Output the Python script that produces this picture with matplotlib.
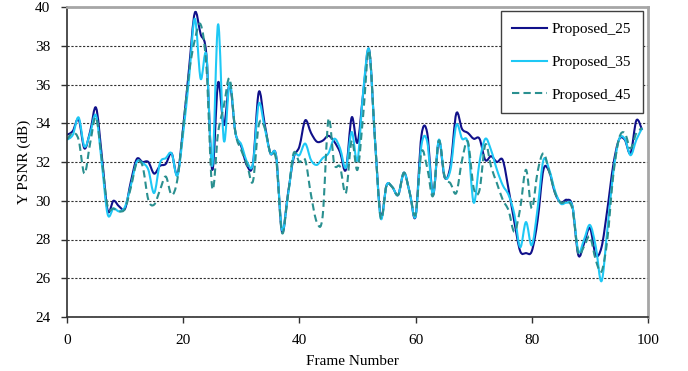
import matplotlib
matplotlib.use('Agg')
import matplotlib.pyplot as plt
import numpy as np
from matplotlib.path import Path
from matplotlib.patches import PathPatch
from matplotlib.lines import Line2D

# Y PSNR per frame
frames = list(range(100))

proposed_25 = [
    33.4, 33.6, 34.2, 32.7, 33.6, 34.8, 32.3, 29.5, 30.0, 29.7,
    29.6, 31.0, 32.15, 32.0, 32.0, 31.4, 31.8, 31.9, 32.45, 31.35,
    33.8, 36.8, 39.7, 38.6, 37.5, 31.6, 36.1, 33.9, 36.0, 33.5,
    32.8, 31.8, 31.9, 35.6, 34.0, 32.45, 32.3, 28.4, 30.3, 32.2,
    32.8, 34.15, 33.5, 33.05, 33.1, 33.35, 33.05, 32.5, 31.6, 34.3,
    33.0, 35.6, 37.8, 33.2, 29.2, 30.8, 30.7, 30.3, 31.45, 30.4,
    29.2, 33.35, 33.5, 30.3, 33.1, 31.2, 31.8, 34.5, 33.7, 33.5,
    33.2, 33.2, 32.1, 32.3, 32.0, 32.1, 30.6, 28.9, 27.4, 27.3,
    27.4, 29.0, 31.6, 31.5, 30.4, 29.9, 30.05, 29.7, 27.2, 27.8,
    28.6, 27.2, 27.6, 29.55, 31.8, 33.15, 33.15, 32.45, 34.15, 33.65,
]

proposed_35 = [
    33.15, 33.4, 34.3, 32.8, 33.5, 34.4, 31.9, 29.3, 29.6, 29.45,
    29.7, 30.8, 32.0, 31.95, 31.6, 30.4, 31.95, 32.2, 32.45, 31.3,
    33.5, 36.3, 39.4, 36.3, 37.5, 31.8, 39.1, 33.1, 36.1, 33.5,
    32.9, 32.0, 31.9, 35.0, 33.8, 32.45, 32.3, 28.5, 30.2, 32.3,
    32.35, 32.95, 32.1, 31.85, 32.2, 32.45, 33.2, 32.7, 31.7, 33.55,
    32.1, 35.7, 37.8, 33.2, 29.1, 30.8, 30.7, 30.3, 31.45, 30.4,
    29.2, 32.85, 33.05, 30.3, 33.15, 31.25, 31.6, 33.9, 33.2, 32.95,
    29.9, 32.0, 33.2, 32.6, 31.6, 30.8, 30.3, 29.3, 27.6, 28.9,
    27.7, 29.6, 32.1, 31.6, 30.5, 29.85, 29.9, 29.7, 27.4, 28.0,
    28.75, 27.65, 25.85, 28.5, 31.4, 33.15, 33.2, 32.35, 33.15, 33.75,
]

proposed_45 = [
    33.15, 33.5, 33.15, 31.4, 33.0, 34.3, 32.1, 29.7, 29.6, 29.45,
    29.6, 30.7, 31.95, 31.8, 30.05, 29.8, 30.55, 31.25, 30.3, 31.1,
    33.8, 36.6, 38.3, 39.1, 36.9, 30.65, 33.5, 34.9, 36.3, 33.5,
    32.6, 31.85, 31.0, 33.9, 33.8, 32.45, 32.1, 28.35, 30.2, 32.45,
    32.0, 32.1, 30.3, 28.9, 29.2, 34.2, 31.9, 31.75, 30.4, 33.1,
    31.6, 34.5, 37.75, 33.2, 29.1, 30.8, 30.7, 30.3, 31.45, 30.4,
    29.3, 32.5, 31.7, 30.25, 33.1, 31.25, 30.9, 30.4, 32.1, 33.05,
    30.65, 30.55, 32.9, 31.75, 30.9, 30.05, 29.5, 28.4, 29.6, 31.6,
    29.6, 31.5, 32.45, 31.5, 30.4, 29.9, 29.95, 29.55, 27.3, 27.65,
    28.15, 26.95, 26.35, 28.0, 31.25, 33.2, 33.5, 32.7, 33.5, 33.75,
]

series_labels = ['Proposed_25', 'Proposed_35', 'Proposed_45']
x_ticks = [0, 20, 40, 60, 80, 100]
y_ticks = [24, 26, 28, 30, 32, 34, 36, 38, 40]

COLORS = ['#10108a', '#1ec8f5', '#2a9090']
STYLES = ['-', '-', (0, (3.5, 2))]
FONT = 'Liberation Serif'
FS = 11


def smooth_path(x, y):
    """Excel-like smoothed line through the points (Catmull-Rom Bezier)."""
    pts = np.column_stack([x, y]).astype(float)
    n = len(pts)
    verts = [pts[0]]
    codes = [Path.MOVETO]
    for i in range(n - 1):
        p0 = pts[i - 1] if i > 0 else pts[i]
        p1 = pts[i]
        p2 = pts[i + 1]
        p3 = pts[i + 2] if i + 2 < n else pts[i + 1]
        verts += [p1 + (p2 - p0) / 6.0, p2 - (p3 - p1) / 6.0, p2]
        codes += [Path.CURVE4] * 3
    return Path(verts, codes)


plt.rcParams['font.family'] = [FONT, 'DejaVu Serif']

fig = plt.figure(figsize=(6.88, 3.71), dpi=100)
ax = fig.add_axes([67 / 688, 54 / 371, 581 / 688, 310 / 371])

handles = []
for ys, label, color, style in zip(
        [proposed_25, proposed_35, proposed_45], series_labels, COLORS, STYLES):
    patch = PathPatch(smooth_path(frames, ys), facecolor='none',
                      edgecolor=color, lw=1.5, linestyle=style,
                      capstyle='butt', joinstyle='round')
    ax.add_patch(patch)
    handles.append(Line2D([], [], color=color, lw=1.5, linestyle=style,
                          label=label))

ax.set_xlim(0, 100)
ax.set_ylim(24, 40)
ax.set_xticks(x_ticks)
ax.set_yticks(y_ticks)
ax.tick_params(axis='both', direction='out', length=4, width=1,
               labelsize=FS, pad=8, colors='#303030', labelcolor='black')

# dotted horizontal gridlines
ax.yaxis.grid(True, color='#303030', lw=0.8, linestyle=(0, (2, 1.5)))
ax.set_axisbelow(True)

for side in ['left', 'bottom']:
    ax.spines[side].set_color('#303030')
    ax.spines[side].set_linewidth(1.2)
for side in ['top', 'right']:
    ax.spines[side].set_color('#a6a6a6')
    ax.spines[side].set_linewidth(2)

ax.set_xlabel('Frame Number', fontsize=FS, labelpad=6)
ax.xaxis.label.set_x(0.491)
ax.set_ylabel('Y PSNR (dB)', fontsize=FS, labelpad=3)

leg = ax.legend(handles=handles, loc='upper right',
                bbox_to_anchor=(0.991, 0.987), borderaxespad=0,
                fontsize=FS, frameon=True, fancybox=False,
                handlelength=2.3, handletextpad=0.3, labelspacing=1.25,
                borderpad=0.75)
leg.get_frame().set_edgecolor('#404040')
leg.get_frame().set_linewidth(1.0)
leg.get_frame().set_alpha(1)

fig.savefig('out.png', dpi=100)
